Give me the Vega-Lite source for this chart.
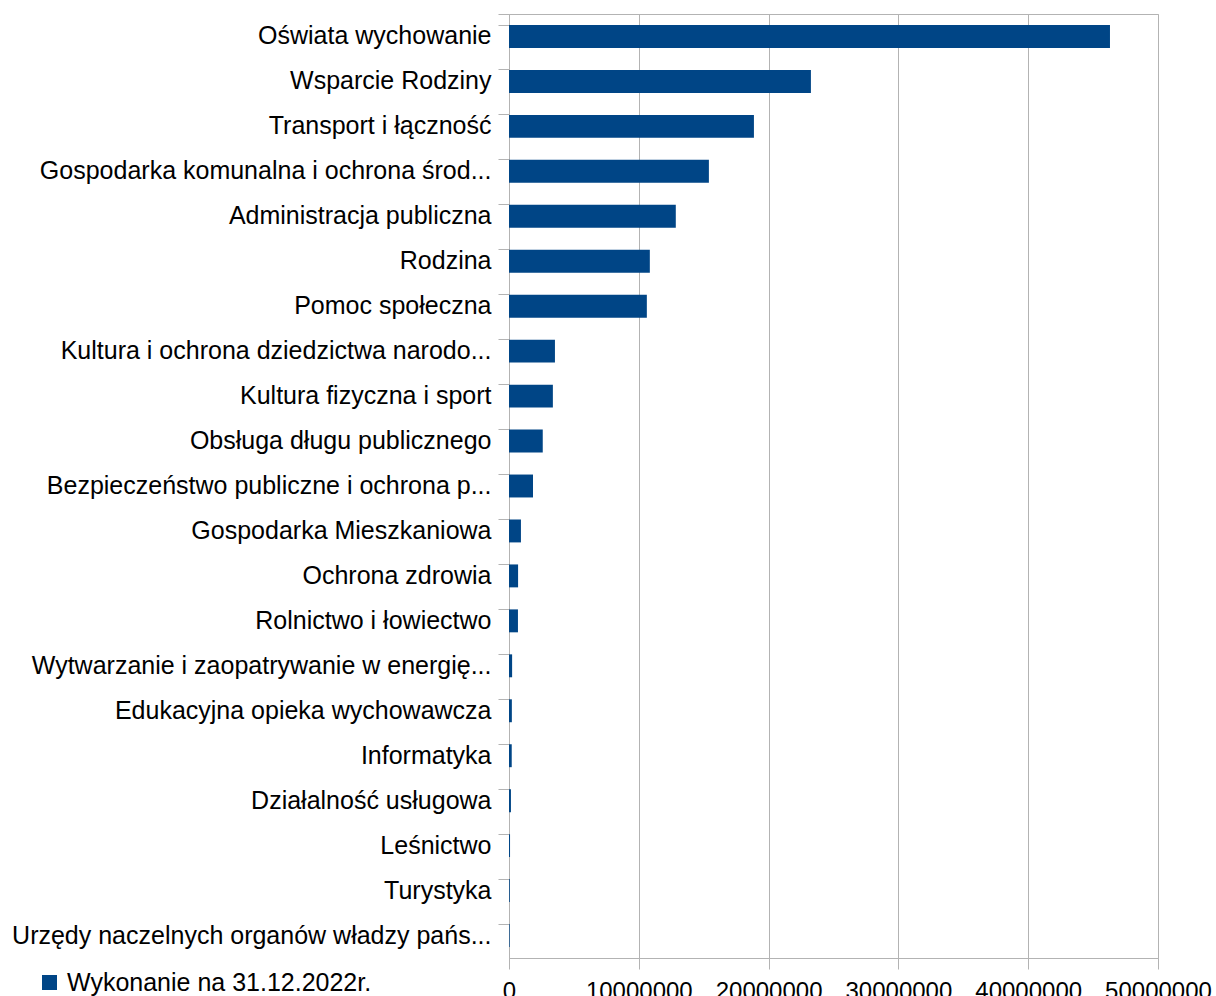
{
  "$schema": "https://vega.github.io/schema/vega-lite/v6.json",
  "autosize": {"type": "none"},
  "padding": {"left": 509, "top": 14, "right": 58, "bottom": 38},
  "width": 649,
  "height": 944,
  "background": "white",
  "config": {
    "font": "Liberation Sans",
    "view": {"stroke": "#b3b3b3", "strokeWidth": 1}
  },
  "data": {
    "values": [
      {"kategoria": "Oświata wychowanie", "wartosc": 46300000, "seria": "Wykonanie na 31.12.2022r."},
      {"kategoria": "Wsparcie Rodziny", "wartosc": 23260000, "seria": "Wykonanie na 31.12.2022r."},
      {"kategoria": "Transport i łączność", "wartosc": 18870000, "seria": "Wykonanie na 31.12.2022r."},
      {"kategoria": "Gospodarka komunalna i ochrona środ...", "wartosc": 15400000, "seria": "Wykonanie na 31.12.2022r."},
      {"kategoria": "Administracja publiczna", "wartosc": 12850000, "seria": "Wykonanie na 31.12.2022r."},
      {"kategoria": "Rodzina", "wartosc": 10850000, "seria": "Wykonanie na 31.12.2022r."},
      {"kategoria": "Pomoc społeczna", "wartosc": 10620000, "seria": "Wykonanie na 31.12.2022r."},
      {"kategoria": "Kultura i ochrona dziedzictwa narodo...", "wartosc": 3540000, "seria": "Wykonanie na 31.12.2022r."},
      {"kategoria": "Kultura fizyczna i sport", "wartosc": 3380000, "seria": "Wykonanie na 31.12.2022r."},
      {"kategoria": "Obsługa długu publicznego", "wartosc": 2600000, "seria": "Wykonanie na 31.12.2022r."},
      {"kategoria": "Bezpieczeństwo publiczne i ochrona p...", "wartosc": 1850000, "seria": "Wykonanie na 31.12.2022r."},
      {"kategoria": "Gospodarka Mieszkaniowa", "wartosc": 920000, "seria": "Wykonanie na 31.12.2022r."},
      {"kategoria": "Ochrona zdrowia", "wartosc": 700000, "seria": "Wykonanie na 31.12.2022r."},
      {"kategoria": "Rolnictwo i łowiectwo", "wartosc": 690000, "seria": "Wykonanie na 31.12.2022r."},
      {"kategoria": "Wytwarzanie i zaopatrywanie w energię...", "wartosc": 240000, "seria": "Wykonanie na 31.12.2022r."},
      {"kategoria": "Edukacyjna opieka wychowawcza", "wartosc": 220000, "seria": "Wykonanie na 31.12.2022r."},
      {"kategoria": "Informatyka", "wartosc": 210000, "seria": "Wykonanie na 31.12.2022r."},
      {"kategoria": "Działalność usługowa", "wartosc": 150000, "seria": "Wykonanie na 31.12.2022r."},
      {"kategoria": "Leśnictwo", "wartosc": 80000, "seria": "Wykonanie na 31.12.2022r."},
      {"kategoria": "Turystyka", "wartosc": 60000, "seria": "Wykonanie na 31.12.2022r."},
      {"kategoria": "Urzędy naczelnych organów władzy pańs...", "wartosc": 50000, "seria": "Wykonanie na 31.12.2022r."}
    ]
  },
  "mark": {"type": "bar"},
  "encoding": {
    "y": {
      "field": "kategoria",
      "type": "nominal",
      "sort": null,
      "scale": {"paddingInner": 0.49, "paddingOuter": 0.245},
      "axis": {
        "title": null,
        "bandPosition": 0,
        "tickExtra": true,
        "tickSize": 11,
        "tickColor": "#b3b3b3",
        "domainColor": "#b3b3b3",
        "labelFontSize": 25,
        "labelColor": "#000000",
        "labelPadding": 7,
        "labelLimit": 600,
        "grid": false
      }
    },
    "x": {
      "field": "wartosc",
      "type": "quantitative",
      "scale": {"domain": [0, 50000000], "nice": false},
      "axis": {
        "title": null,
        "values": [0, 10000000, 20000000, 30000000, 40000000, 50000000],
        "format": "d",
        "tickSize": 11,
        "tickColor": "#b3b3b3",
        "domainColor": "#b3b3b3",
        "gridColor": "#b3b3b3",
        "grid": true,
        "labelFontSize": 24,
        "labelColor": "#000000",
        "labelPadding": 10,
        "labelFlush": false,
        "labelOverlap": false
      }
    },
    "color": {
      "field": "seria",
      "type": "nominal",
      "scale": {"range": ["#004586"]},
      "legend": {
        "title": null,
        "orient": "none",
        "legendX": -472,
        "legendY": 956,
        "padding": 0,
        "symbolType": "square",
        "symbolSize": 225,
        "symbolStrokeWidth": 0,
        "symbolOpacity": 1,
        "labelFontSize": 25,
        "labelColor": "#000000",
        "labelOffset": 5,
        "labelLimit": 500
      }
    }
  }
}
